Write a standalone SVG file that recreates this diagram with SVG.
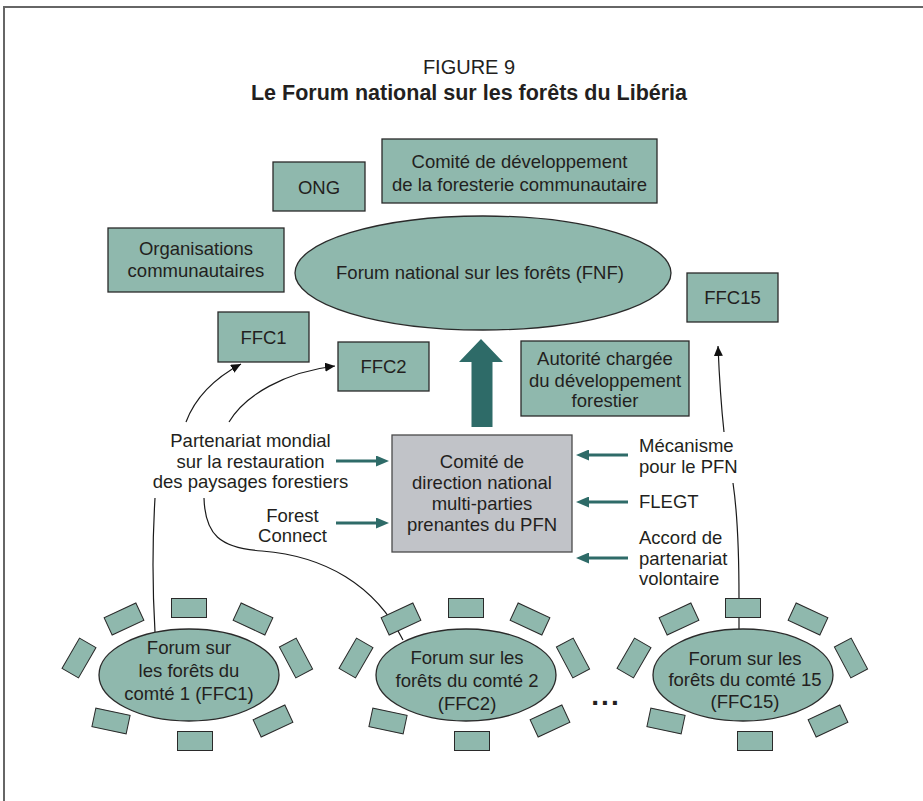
<svg xmlns="http://www.w3.org/2000/svg" width="923" height="801" viewBox="0 0 923 801">
<defs>
<style>
text{font-family:"Liberation Sans",Arial,sans-serif;font-size:18.5px;fill:#231f20;text-anchor:middle}
.st{text-anchor:start}
.box{fill:#8fb8ad;stroke:#2a2a2a;stroke-width:1.3}
.gray{fill:#c1c3c8;stroke:#4a4a4a;stroke-width:1.3}
.seat{fill:#8fb8ad;stroke:#2a2a2a;stroke-width:1}
.curve{fill:none;stroke:#1a1a1a;stroke-width:1.2}
.teal{stroke:#2e6b68;stroke-width:3;fill:none}
</style>
<marker id="ah" markerUnits="userSpaceOnUse" markerWidth="11" markerHeight="9" refX="10" refY="4.5" orient="auto" viewBox="0 0 11 9"><path d="M0,0 L10,4.5 L0,9 z" fill="#111"/></marker>
<marker id="th" markerUnits="userSpaceOnUse" markerWidth="13" markerHeight="11" refX="1" refY="5.5" orient="auto" viewBox="0 0 13 11"><path d="M0,0 L13,5.5 L0,11 z" fill="#2e6b68"/></marker>
<rect id="seat" class="seat" x="-17.5" y="-9.5" width="35" height="19"/>
</defs>

<path d="M4,801 V7 H923" fill="none" stroke="#666" stroke-width="2"/>

<g id="title">
<text x="469" y="74" style="font-size:20px">FIGURE 9</text>
<text x="469" y="100" style="font-size:21.5px;font-weight:bold">Le Forum national sur les forêts du Libéria</text>
</g>

<g id="connectors">
<path class="curve" d="M186,422 C195,398 215,378 241,364" marker-end="url(#ah)"/>
<path class="curve" d="M229,422 C245,395 285,372 335,366" marker-end="url(#ah)"/>
<path class="curve" d="M155,498 Q151,565 155,632"/>
<path class="curve" d="M204,498 C205,535 220,548 262,551 C325,556 375,585 403,640"/>
<path class="curve" d="M724,432 Q720,395 718,346" marker-end="url(#ah)"/>
<path class="curve" d="M733,483 C737,510 739,540 739,598 L739,629"/>
<line class="teal" x1="336" y1="461" x2="377" y2="461" marker-end="url(#th)"/>
<line class="teal" x1="336" y1="523" x2="377" y2="523" marker-end="url(#th)"/>
<line class="teal" x1="628" y1="455" x2="588" y2="455" marker-end="url(#th)"/>
<line class="teal" x1="628" y1="502" x2="588" y2="502" marker-end="url(#th)"/>
<line class="teal" x1="628" y1="558" x2="588" y2="558" marker-end="url(#th)"/>
<polygon points="481,339 503,362 492.5,362 492.5,427 471.5,427 471.5,362 459,362" fill="#2e6b68"/>
</g>

<g id="ong"><rect class="box" x="273" y="162" width="92" height="49"/><text x="319" y="193.5">ONG</text></g>
<g id="comite-dev"><rect class="box" x="382" y="139" width="275" height="64"/><text x="519.5" y="168">Comité de développement</text><text x="519.5" y="191">de la foresterie communautaire</text></g>
<g id="org-comm"><rect class="box" x="108" y="228" width="176" height="64"/><text x="196" y="254.5">Organisations</text><text x="196" y="276.5">communautaires</text></g>
<g id="fnf"><ellipse class="box" cx="483" cy="273" rx="188" ry="57"/><text x="480" y="279">Forum national sur les forêts (FNF)</text></g>
<g id="ffc15-box"><rect class="box" x="687" y="273" width="91" height="49"/><text x="732.5" y="304">FFC15</text></g>
<g id="ffc1-box"><rect class="box" x="218" y="312" width="91" height="50"/><text x="263.5" y="343.5">FFC1</text></g>
<g id="ffc2-box"><rect class="box" x="338" y="342" width="91" height="49"/><text x="383.5" y="373">FFC2</text></g>
<g id="autorite"><rect class="box" x="521" y="341" width="168" height="75"/><text x="605" y="364.5">Autorité chargée</text><text x="605" y="386.5">du développement</text><text x="605" y="407">forestier</text></g>
<g id="comite-direction"><rect class="gray" x="392" y="435" width="180" height="117"/><text x="482" y="468">Comité de</text><text x="482" y="489">direction national</text><text x="482" y="510">multi-parties</text><text x="482" y="531">prenantes du PFN</text></g>

<g id="partenariat"><text x="250.5" y="446.5">Partenariat mondial</text><text x="250.5" y="467.5">sur la restauration</text><text x="250.5" y="488">des paysages forestiers</text></g>
<g id="forest-connect"><text x="292.5" y="521.5">Forest</text><text x="292.5" y="542">Connect</text></g>
<g id="mecanisme"><text class="st" x="639" y="451.5">Mécanisme</text><text class="st" x="639" y="473">pour le PFN</text></g>
<g id="flegt"><text class="st" x="639" y="507.5">FLEGT</text></g>
<g id="apv"><text class="st" x="639" y="543.5">Accord de</text><text class="st" x="639" y="564.5">partenariat</text><text class="st" x="639" y="584.5">volontaire</text></g>

<g id="ffc1-cluster" transform="translate(189,675)">
<use href="#seat" transform="translate(0,-67)"/>
<use href="#seat" transform="translate(-65,-56) rotate(-25)"/>
<use href="#seat" transform="translate(64,-56) rotate(25)"/>
<use href="#seat" transform="translate(-110,-17) rotate(-60)"/>
<use href="#seat" transform="translate(107,-17) rotate(62)"/>
<use href="#seat" transform="translate(-78,46) rotate(12)"/>
<use href="#seat" transform="translate(84,46) rotate(-25)"/>
<use href="#seat" transform="translate(6,66)"/>
<ellipse class="box" cx="0" cy="0" rx="90" ry="46"/>
<text x="0" y="-21.5">Forum sur</text><text x="0" y="1.5">les forêts du</text><text x="0" y="24.5">comté 1 (FFC1)</text>
</g>

<g id="ffc2-cluster" transform="translate(466,675)">
<use href="#seat" transform="translate(0,-67)"/>
<use href="#seat" transform="translate(-65,-56) rotate(-25)"/>
<use href="#seat" transform="translate(64,-56) rotate(25)"/>
<use href="#seat" transform="translate(-110,-17) rotate(-60)"/>
<use href="#seat" transform="translate(107,-17) rotate(62)"/>
<use href="#seat" transform="translate(-78,46) rotate(12)"/>
<use href="#seat" transform="translate(84,46) rotate(-25)"/>
<use href="#seat" transform="translate(6,66)"/>
<ellipse class="box" cx="0" cy="0" rx="90" ry="46"/>
<text x="1" y="-11.5">Forum sur les</text><text x="1" y="11.5">forêts du comté 2</text><text x="1" y="34.5">(FFC2)</text>
</g>

<g id="ellipsis"><text x="606" y="705" style="font-size:28px;font-weight:bold;letter-spacing:2px">...</text></g>

<g id="ffc15-cluster" transform="translate(743,675)">
<use href="#seat" transform="translate(0,-67)"/>
<use href="#seat" transform="translate(-64,-56) rotate(-25)"/>
<use href="#seat" transform="translate(65,-56) rotate(25)"/>
<use href="#seat" transform="translate(-109,-17) rotate(-60)"/>
<use href="#seat" transform="translate(108,-17) rotate(62)"/>
<use href="#seat" transform="translate(-77,46) rotate(12)"/>
<use href="#seat" transform="translate(85,46) rotate(-25)"/>
<use href="#seat" transform="translate(12,66)"/>
<ellipse class="box" cx="0" cy="0" rx="90" ry="46"/>
<text x="2" y="-10.5">Forum sur les</text><text x="2" y="10.5">forêts du comté 15</text><text x="2" y="33">(FFC15)</text>
</g>
</svg>
